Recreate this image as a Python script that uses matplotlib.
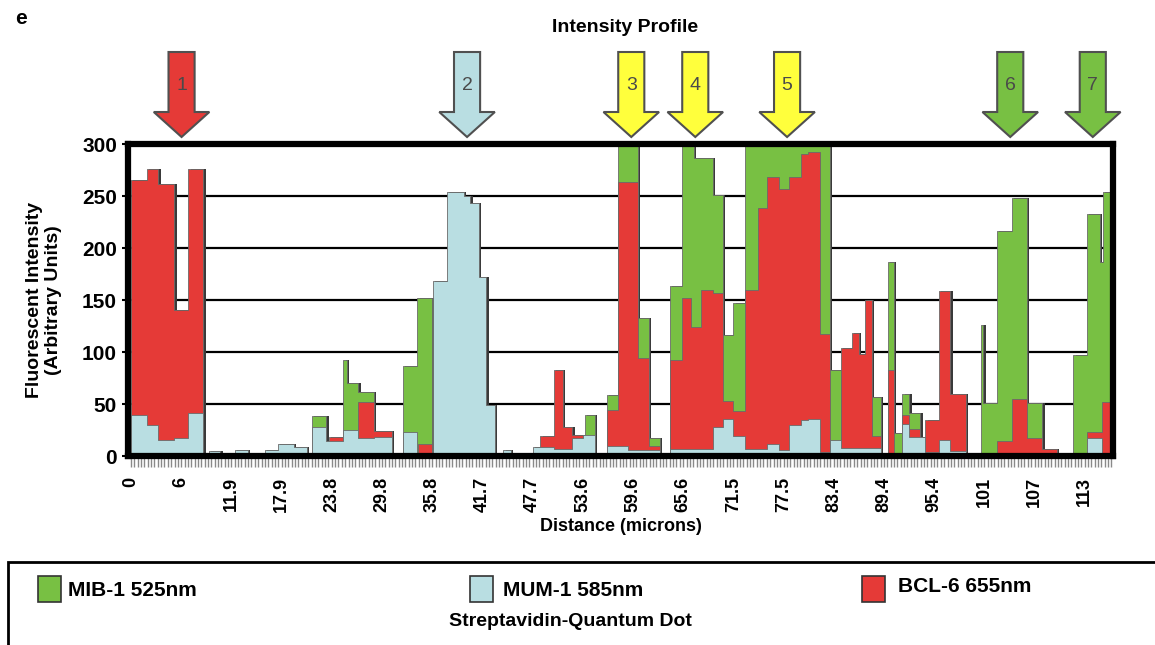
import numpy as np
import matplotlib.pyplot as plt
import matplotlib.transforms as mtransforms
from matplotlib.patches import Polygon, Rectangle
from matplotlib.ticker import MultipleLocator

plt.rcParams['font.family'] = ['Liberation Sans', 'DejaVu Sans']
plt.rcParams['font.weight'] = 'bold'

# step edges (microns) and intensity per step for each channel
green_edges = [0, 21.5, 23.2, 25.2, 25.6, 27.0, 28.8, 32.3, 34.0, 35.7, 53.9, 55.1, 56.5, 57.8,
               60.2, 61.5, 62.8, 64.0, 65.4, 66.8, 69.1, 70.3, 71.5, 72.9, 83.0, 84.3, 88.0,
               89.0, 89.9, 90.6, 91.6, 92.4, 93.7, 100.9, 101.2, 102.8, 104.6, 106.4, 108.2,
               111.9, 113.5, 115.0, 115.4, 116.6]
green_vals = [0, 38, 0, 92, 70, 62, 0, 87, 152, 0, 39, 0, 59, 300,
              133, 17, 0, 163, 300, 287, 251, 116, 147, 300, 83, 0,
              57, 0, 187, 22, 60, 41, 0, 126, 51, 216, 248, 51, 0,
              97, 233, 187, 254]

red_edges = [0, 1.9, 3.25, 5.15, 6.8, 8.6, 23.5, 25.2, 27.0, 28.8, 31.0, 34.1, 35.7, 48.6,
             50.2, 51.3, 52.4, 53.7, 56.5, 57.8, 60.2, 61.5, 62.8, 64.0, 65.4, 66.5, 67.7,
             69.1, 70.3, 71.5, 72.9, 74.5, 75.5, 76.9, 78.1, 79.5, 80.4, 81.8, 83.0, 84.3,
             85.6, 86.4, 87.2, 88.0, 89.0, 89.9, 90.6, 91.6, 92.4, 93.7, 94.3, 95.9, 97.3,
             99.1, 102.8, 104.6, 106.4, 108.2, 109.9, 113.5, 115.3, 116.6]
red_vals = [265, 276, 262, 140, 276, 0, 18, 0, 52, 24, 0, 12, 0,
            19, 83, 28, 20, 0, 44, 263, 94, 10, 0, 92, 152, 124,
            160, 157, 53, 43, 160, 238, 268, 257, 268, 290, 292, 117, 0,
            104, 118, 98, 150, 19, 0, 83, 0, 39, 26, 0, 35, 159,
            60, 0, 14, 55, 17, 7, 0, 23, 52]

cyan_edges = [0, 1.9, 3.25, 5.15, 6.8, 8.6, 9.2, 10.6, 12.3, 13.9, 15.9, 17.4, 19.3, 20.9,
              21.5, 23.2, 25.2, 27.0, 28.8, 31.0, 32.3, 34.0, 35.8, 37.5, 39.5, 40.3, 41.3,
              42.2, 43.2, 44.2, 45.1, 47.7, 50.2, 52.4, 53.7, 55.1, 56.5, 59.0, 62.8, 64.0,
              69.1, 70.3, 71.5, 72.9, 75.5, 76.9, 78.1, 79.5, 80.4, 81.8, 83.0, 84.3, 89.0,
              91.6, 92.4, 94.3, 95.9, 97.3, 99.1, 113.5, 115.3, 116.6]
cyan_vals = [39, 30, 15, 17, 41, 0, 5, 0, 6, 0, 6, 12, 9,
             0, 28, 14, 25, 17, 18, 0, 23, 0, 168, 254, 250, 243,
             172, 49, 0, 6, 0, 9, 7, 17, 20, 0, 10, 6, 0,
             7, 28, 36, 19, 7, 12, 6, 30, 35, 36, 4, 15, 8,
             0, 31, 18, 4, 15, 5, 0, 17, 0]

tick_pos = [0, 5.96, 11.92, 17.88, 23.84, 29.8, 35.76, 41.72, 47.68, 53.64, 59.6, 65.56,
            71.52, 77.48, 83.44, 89.4, 95.36, 101.32, 107.28, 113.24]
tick_labels = ['0', '6', '11.9', '17.9', '23.8', '29.8', '35.8', '41.7', '47.7', '53.6',
               '59.6', '65.6', '71.5', '77.5', '83.4', '89.4', '95.4', '101', '107', '113']

arrow_pos = [6.0, 39.9, 59.4, 67.0, 77.9, 104.4, 114.2]
arrow_labels = ['1', '2', '3', '4', '5', '6', '7']

GREEN = '#78c043'
CYAN = '#b9dee2'
RED = '#e53a37'
YELLOW = '#ffff3c'
arrow_colors = [RED, CYAN, YELLOW, YELLOW, YELLOW, GREEN, GREEN]

W, H = 1155, 645
fig = plt.figure(figsize=(W / 100, H / 100), dpi=100)
ax = fig.add_axes([128 / W, 1 - 456 / H, (1113 - 128) / W, (456 - 144) / H])

series = [(green_edges, green_vals, GREEN),
          (red_edges, red_vals, RED),
          (cyan_edges, cyan_vals, CYAN)]

# dark drop shadow behind all areas
for edges, vals, col in series:
    y = np.append(vals, vals[-1])
    ax.fill_between(np.array(edges) + 0.28, y, step='post', color='#3a3a3a', lw=0, zorder=2)

for i, (edges, vals, col) in enumerate(series):
    y = np.append(vals, vals[-1])
    ax.fill_between(edges, y, step='post', color=col, lw=0.6, edgecolor='#6a6a6a', zorder=3 + i)

ax.set_xlim(-0.36, 116.6)
ax.set_ylim(0, 300)
ax.set_yticks([0, 50, 100, 150, 200, 250, 300])
ax.set_xticks(tick_pos)
ax.set_xticklabels(tick_labels, rotation=90, fontsize=13, fontweight='bold')
ax.xaxis.set_minor_locator(MultipleLocator(5.96 / 15))
ax.tick_params(axis='x', which='both', direction='out', length=8, width=1, color='#8a8a8a', pad=7)
ax.tick_params(axis='y', length=4, width=1.5, labelsize=15, pad=4)
for lab in ax.get_yticklabels():
    lab.set_fontweight('bold')

for yv in [50, 100, 150, 200, 250]:
    ax.axhline(yv, color='black', lw=1.6, zorder=1)

for sp in ax.spines.values():
    sp.set_linewidth(4.5)
    sp.set_zorder(10)

ax.set_xlabel('Distance (microns)', fontsize=13, fontweight='bold', labelpad=4)
ax.set_ylabel('Fluorescent Intensity\n(Arbitrary Units)', fontsize=14, fontweight='bold',
              labelpad=14, linespacing=1.15)

fig.text(625 / W, 1 - 28 / H, 'Intensity Profile', ha='center', va='center', fontsize=14,
         fontweight='bold')
fig.text(15 / W, 1 - 18 / H, 'e', ha='left', va='center', fontsize=15, fontweight='bold')

# block arrows above the plot
trans = mtransforms.blended_transform_factory(ax.transData, fig.transFigure)
sw, hw = 1.55, 3.3
y_top, y_head, y_tip = 1 - 52 / H, 1 - 112 / H, 1 - 137 / H
for xp, lab, col in zip(arrow_pos, arrow_labels, arrow_colors):
    pts = [(xp - sw, y_top), (xp + sw, y_top), (xp + sw, y_head), (xp + hw, y_head),
           (xp, y_tip), (xp - hw, y_head), (xp - sw, y_head)]
    fig.patches.append(Polygon(pts, closed=True, transform=trans, facecolor=col,
                               edgecolor='#505050', lw=1.5, zorder=5))
    fig.text(xp, 1 - 86 / H, lab, transform=trans, ha='center', va='center', fontsize=14,
             fontweight='normal', color='#4a4a4a', zorder=6)

# legend box
fig.patches.append(Rectangle((8 / W, -0.1), 1.2, 1 - 562 / H + 0.1, transform=fig.transFigure,
                             facecolor='none', edgecolor='black', lw=2))
leg_items = [('MIB-1 525nm', GREEN, 38, 68, 590),
             ('MUM-1 585nm', CYAN, 470, 503, 590),
             ('BCL-6 655nm', RED, 862, 898, 587)]
for text, col, sx, tx, ty in leg_items:
    fig.patches.append(Rectangle((sx / W, 1 - 602 / H), 23 / W, 26 / H, transform=fig.transFigure,
                                 facecolor=col, edgecolor='#333333', lw=1.2))
    fig.text(tx / W, 1 - ty / H, text, ha='left', va='center', fontsize=15, fontweight='bold')
fig.text(570 / W, 1 - 622 / H, 'Streptavidin-Quantum Dot', ha='center', va='center',
         fontsize=14, fontweight='bold')

fig.savefig('out.png', dpi=100)
